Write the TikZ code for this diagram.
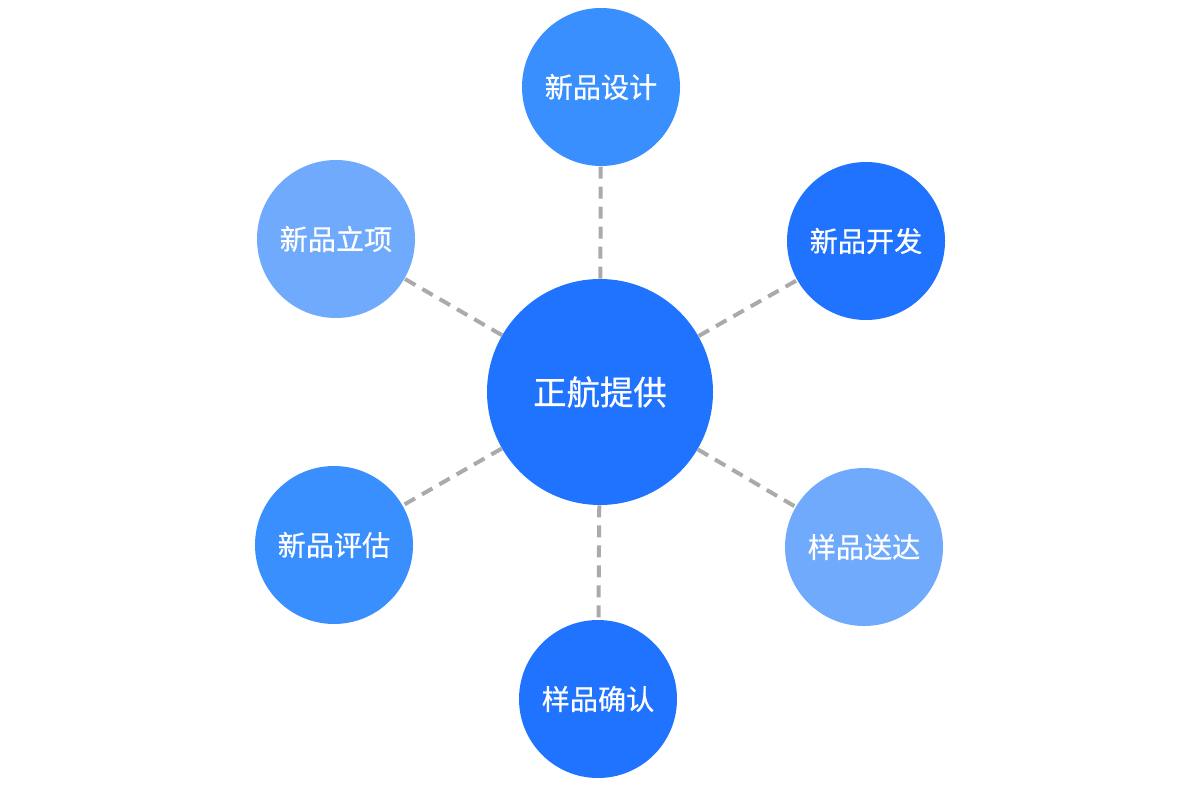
\documentclass[tikz,border=0pt]{standalone}
\usepackage{fontspec}
\setmainfont[FakeBold=0.6,AutoFakeBold=0.6]{Noto Sans CJK SC}
\usepackage{xcolor}

\definecolor{hubblue}{HTML}{1F73FE}
\definecolor{midblue}{HTML}{3A8FFE}
\definecolor{paleblue}{HTML}{70AAFC}
\definecolor{linkgray}{HTML}{AAAAAA}

\tikzset{
  hub/.style={circle, fill=hubblue, text=white, minimum size=4.52cm, inner sep=0pt, font=\fontsize{19pt}{22pt}\selectfont\bfseries},
  stage/.style={circle, text=white, minimum size=3.16cm, inner sep=0pt, font=\fontsize{16pt}{19pt}\selectfont\bfseries},
  link/.style={draw=linkgray, line width=0.08cm, dash pattern=on 0.24cm off 0.16cm}
}

\begin{document}
\begin{tikzpicture}
\useasboundingbox (0,0) rectangle (24,15.72);

% Hub
\node[hub] (hub) at (12,7.88) {正航提供};

% Stages around the hub
\node[stage, fill=midblue]  (design)  at (12.02,13.98) {新品设计};
\node[stage, fill=paleblue] (project) at (6.72,10.94)  {新品立项};
\node[stage, fill=hubblue]  (develop) at (17.32,10.90) {新品开发};
\node[stage, fill=midblue]  (assess)  at (6.68,4.82)   {新品评估};
\node[stage, fill=paleblue] (deliver) at (17.28,4.78)  {样品送达};
\node[stage, fill=hubblue]  (confirm) at (11.96,1.74)  {样品确认};

% Dashed links
\foreach \n in {design,project,develop,assess,deliver,confirm} {
    \draw[link] (hub) -- (\n);
}

\end{tikzpicture}
\end{document}
